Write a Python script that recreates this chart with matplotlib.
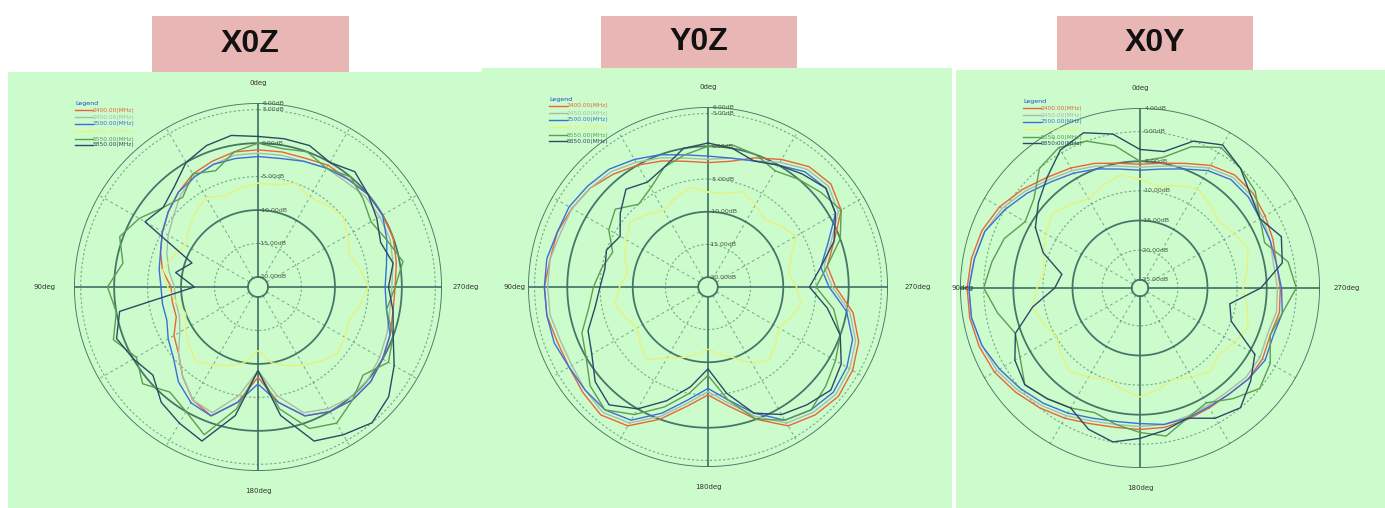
import matplotlib
matplotlib.use("Agg")
import matplotlib.pyplot as plt
from matplotlib.patches import Rectangle
from matplotlib.lines import Line2D
import numpy as np

W, H = 1385, 508

# --- dane (dB co 10 stopni, 0deg u gory, kat rosnie w lewo) ---
angles_deg = np.arange(0, 360, 10)
freq_labels = ["2400.00(MHz)", "2450.00(MHz)", "2500.00(MHz)",
               "5150.00(MHz)", "5550.00(MHz)", "5850.00(MHz)"]
series_colors = ["#e8643c", "#a8bca8", "#3c6ed8", "#e6f27a", "#5c9e52", "#2c4a66"]

xoz_2400 = [-1, -1, -1.5, -2, -3, -4, -5, -6, -7, -8.5, -8.5, -8.5, -7, -6, -4, -2, -1, -4,
            -8, -4, -1, 0, 0.5, 0.5, 0, -0.5, -1, -1, -0.5, 0, 0, 0, -0.5, -0.5, -1, -1]
xoz_2450 = [-1.5, -1.5, -2, -2.5, -3.5, -5, -6, -7, -8, -9, -9, -9, -8, -6, -4, -2, -1.5, -5,
            -9, -5, -1.5, -0.5, 0, 0, -0.5, -1, -1.5, -1.5, -1, -0.5, -0.5, -0.5, -1, -1, -1.5, -1.5]
xoz_2500 = [-2, -2, -2, -2.5, -3, -4, -5, -6, -6.5, -7, -7, -7, -6, -5, -3, -1.5, -1, -4,
            -7, -4, -1, 0, 0.5, 0.5, 0, -0.5, -2, -2.5, -2, -1, 0, 0, -0.5, -1, -1.5, -2]
xoz_5150 = [-6, -6.5, -7, -6, -7, -8, -9, -8, -7, -8, -9, -10, -9, -8, -7, -8, -9, -10,
            -12, -10, -9, -8, -7, -6, -6.5, -7, -6, -5, -6, -7, -6, -5, -5.5, -6, -5, -6]
xoz_5550 = [0, -1, -3, -2, -4, -3, -1, 0.5, -1, 1, 0, 1.5, -0.5, 1, -1, 0, 2, -3,
            -9, -3, 1, 2, 0.5, -1, 1, 0, -2, -1, 0.5, -1, -2, -1, 0, -1, 0, -0.5]
xoz_5850 = [1, 1.5, 1, 0, -2, -3, -2, -11, -9, -12, -0.5, 1, 0, -1, 1, 2, 3, -2,
            -9, -2, 3, 4, 5, 4, 2, 0, -1, -2, -1, -2, -1, 0, 1, 0, 1, 1]

yoz_2400 = [-2.5, -2, -1, 0, 1, 2, 2.5, 3, 3, 3.5, 3.5, 3, 3, 3.5, 4, 3, 0, -3,
            -5, -3, 0, 3, 4, 4.5, 4, 3, 1, -2, -3, -1, 2, 3, 2.5, 1, -0.5, -2]
yoz_2450 = [-2, -1.5, -0.5, 0.5, 1.5, 2, 2.5, 2.5, 3, 3, 3, 2.5, 2.5, 3, 3.5, 2.5, -0.5, -3.5,
            -5.5, -3.5, -0.5, 2.5, 3.5, 4, 3.5, 2.5, 0.5, -2.5, -3.5, -1.5, 1.5, 2.5, 2, 0.5, -1, -1.5]
yoz_2500 = [-1.5, -1, 0, 1, 2, 2.5, 3, 3, 3.5, 3.5, 3.5, 3.5, 3, 3, 3, 2, -1, -4,
            -6, -4, -1, 2, 3, 3.5, 3, 2, 0, -3, -4, -2, 1, 2, 1.5, 0, -1, -1.5]
yoz_5150 = [-7, -6, -7, -8, -7, -6, -7, -8, -9, -8, -7, -8, -9, -8, -7, -9, -10, -11,
            -12, -11, -10, -8, -7, -8, -9, -8, -7, -8, -9, -8, -6, -7, -8, -7, -6, -7]
yoz_5550 = [0, -1, -2, -4, -5, -3, -4, -6, -5, -4, -3, -1, 0, 2, 3, 1, -2, -5,
            -8, -4, 0, 2, 3, 2, 1, 0, -2, -5, -3, 0, 2, 1, 0, -1, 0, 0.5]
yoz_5850 = [0.5, 0, -2, -3, -2, -4, -6, -5, -5.5, -5, -4, -2, -1, 1, 2, 0, -3, -6,
            -9, -5, -1, 1, 2, 3, 2, 0, -3, -6, -4, -1, 1, 2, 1, 0, -1, 0]

xoy_2400 = [-5.5, -5, -4, -3, -2, -0.5, 1, 2, 2.5, 2.8, 2.8, 2.5, 2, 1, 0, -1, -2, -2.5,
            -2.5, -2.5, -2.8, -3, -3, -2.5, -2.5, -3, -2.5, -2.7, -3, -2.5, -2, -1.5, -1.5, -2.5, -4, -5]
xoy_2450 = [-6, -5.5, -4.5, -3.5, -2.5, -1, 0.5, 1.5, 2, 2.5, 2.5, 2, 1.5, 0.5, -0.5, -1.5, -2.5, -3,
            -3, -3, -3.3, -3.5, -3.5, -3, -3, -3.5, -3, -3.2, -3.5, -3, -2.5, -2, -2, -3, -4.5, -5.5]
xoy_2500 = [-6.5, -6, -5, -4, -3, -1.5, 0, 1.5, 2, 2.5, 2.5, 2, 1, 0, -1, -2, -3, -3.5,
            -3.5, -3, -3, -3.2, -3, -2.5, -2, -2.5, -2, -2.5, -3, -3, -3, -2.5, -2.5, -3.5, -5, -6]
xoy_5150 = [-8, -7, -8, -9, -8, -7, -8, -9, -10, -9, -8, -9, -10, -9, -8, -9, -10, -9,
            -8, -9, -10, -9, -8, -9, -8, -7, -8, -9, -8, -7, -8, -9, -8, -7, -8, -9]
xoy_5550 = [-5, -2, 0, 1, 0, -3, -4, -2, -1, 0, -2, -4, -3, -1, -2, -3, -4, -3,
            -2, -1, -3, -4, -2, 0, -1, -3, -2, 0, -1, -4, -3, -1, 0, 1, -1, -4]
xoy_5850 = [-3, 0, 1.5, 0.5, -2, -4, -6, -9, -13, -12, -8, -4, -2, -1, -2, -3, -1, 0,
            -1, -2, -3, -1, 0, -2, -4, -10, -11, -6, -2, -1, -3, -2, 0, 1.5, 0, -3]

panel_titles = ["X0Z", "Y0Z", "X0Y"]
panel_series = [
    [xoz_2400, xoz_2450, xoz_2500, xoz_5150, xoz_5550, xoz_5850],
    [yoz_2400, yoz_2450, yoz_2500, yoz_5150, yoz_5550, yoz_5850],
    [xoy_2400, xoy_2450, xoy_2500, xoy_5150, xoy_5550, xoy_5850],
]
panel_rlim = [(-21.5, 6), (-21.5, 6), (-26.4, 4)]
panel_rings = [[6, 5, 0, -5, -10, -15, -20],
               [6, 5, 0, -5, -10, -15, -20],
               [4, 0, -5, -10, -15, -20, -25]]

# --- uklad (piksele obrazka) ---
centers = [(258, 287), (708, 287), (1140, 288)]
radius = [184, 180, 180]
green_boxes = [(8, 72, 474, 436), (482, 68, 470, 440), (956, 70, 429, 438)]
title_boxes = [(152, 16, 197, 56), (601, 16, 196, 52), (1057, 16, 196, 54)]
left_label_x = [45, 514, 962]
right_label_x = [466, 918, 1347]

BG_GREEN = "#ccfccc"
GRID_COL = "#3f6f63"


def fx(x):
    return x / W


def fy(y):
    return 1 - y / H


fig = plt.figure(figsize=(W / 100, H / 100), dpi=100)
fig.patch.set_facecolor("white")

for i in range(3):
    gx, gy, gw, gh = green_boxes[i]
    fig.add_artist(Rectangle((fx(gx), fy(gy + gh)), gw / W, gh / H,
                             transform=fig.transFigure, facecolor=BG_GREEN,
                             edgecolor="none", zorder=0))
    tx, ty, tw, th = title_boxes[i]
    fig.add_artist(Rectangle((fx(tx), fy(ty + th)), tw / W, th / H,
                             transform=fig.transFigure, facecolor="#e8b6b4",
                             edgecolor="none", zorder=1))
    fig.text(fx(tx + tw / 2), fy(ty + th / 2), panel_titles[i], ha="center", va="center",
             fontsize=23, fontweight="bold", family="Liberation Sans", color="#111111", zorder=2)

    cx, cy = centers[i]
    R = radius[i]
    ax = fig.add_axes([fx(cx - R), fy(cy + R), 2 * R / W, 2 * R / H], projection="polar")
    ax.patch.set_alpha(0)
    ax.set_theta_zero_location("N")
    ax.set_theta_direction(1)
    rmin, rmax = panel_rlim[i]
    ax.set_ylim(rmin, rmax)
    ax.set_xticks([])
    ax.set_yticks([])
    ax.grid(False)
    ax.spines["polar"].set_visible(False)

    full = np.linspace(0, 2 * np.pi, 361)
    for k, ring in enumerate(panel_rings[i]):
        solid = (k % 2 == 0)
        ax.plot(full, np.full_like(full, ring), color=GRID_COL,
                lw=1.3 if solid else 0.8, ls="-" if solid else (0, (2, 2)),
                alpha=0.95 if solid else 0.6, zorder=1)
        ax.text(np.deg2rad(-1.5), ring, f"{ring:.2f}dB", fontsize=4.5,
                color="#445544", ha="left", va="center", zorder=5)
    for a in range(0, 360, 30):
        th_ = np.deg2rad(a)
        if a % 90 == 0:
            ax.plot([th_, th_], [panel_rings[i][-1], rmax], color=GRID_COL, lw=1.2, zorder=1)
        else:
            ax.plot([th_, th_], [panel_rings[i][-1], rmax], color=GRID_COL, lw=0.7,
                    ls=(0, (3, 3)), alpha=0.6, zorder=1)

    th = np.deg2rad(np.append(angles_deg, 360))
    for vals, col in zip(panel_series[i], series_colors):
        v = np.append(vals, vals[0])
        ax.plot(th, v, color=col, lw=1.0, zorder=3)

    # etykiety katow
    fig.text(fx(cx), fy(cy - R - 20), "0deg", fontsize=5, ha="center", va="center", color="#333333")
    fig.text(fx(cx), fy(cy + R + 20), "180deg", fontsize=5, ha="center", va="center", color="#333333")
    fig.text(fx(left_label_x[i]), fy(cy), "90deg", fontsize=5, ha="center", va="center", color="#333333")
    fig.text(fx(right_label_x[i]), fy(cy), "270deg", fontsize=5, ha="center", va="center", color="#333333")

    # legenda
    lx = green_boxes[i][0] + 67
    ly = green_boxes[i][1] + 31
    fig.text(fx(lx), fy(ly), "Legend", fontsize=4.5, color="#2244cc", ha="left", va="center")
    rows = [7, 14, 21, 28, 36, 42]
    for dy, lab, col in zip(rows, freq_labels, series_colors):
        fig.add_artist(Line2D([fx(lx), fx(lx + 18)], [fy(ly + dy), fy(ly + dy)],
                              color=col, lw=1.0, transform=fig.transFigure))
        fig.text(fx(lx + 18), fy(ly + dy), lab, fontsize=4.2, color=col, ha="left", va="center")

fig.savefig("out.png", dpi=100)
